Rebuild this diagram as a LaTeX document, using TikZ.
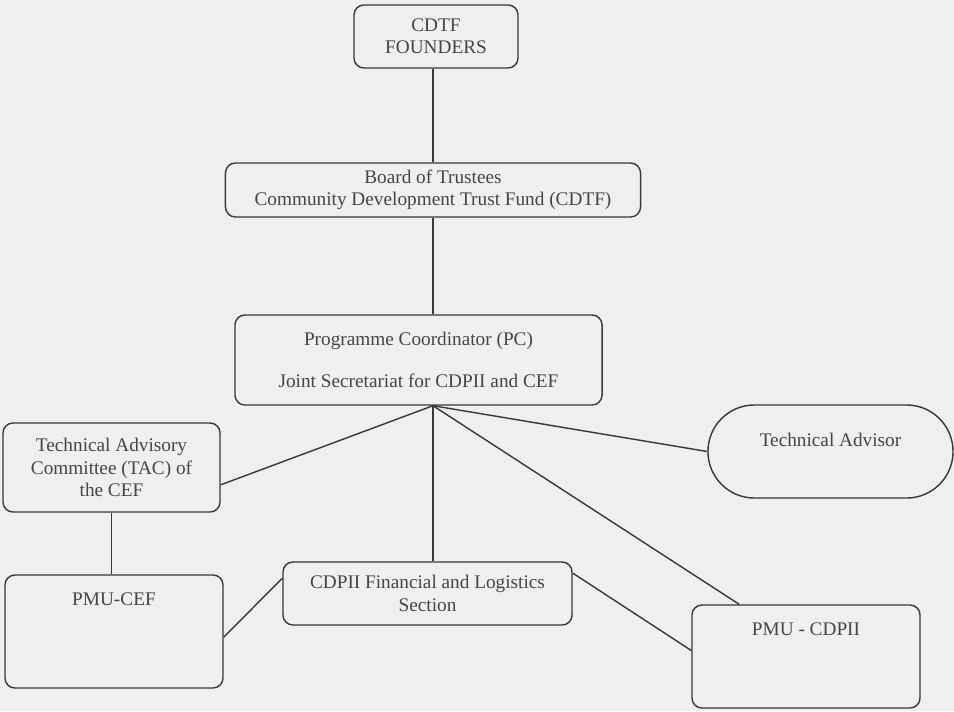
\documentclass[tikz,border=0pt]{standalone}
\usepackage{fontspec}
\setmainfont{Liberation Serif}
\usetikzlibrary{positioning}
\definecolor{paper}{rgb}{0.937,0.937,0.933}
\definecolor{ink}{rgb}{0.22,0.22,0.22}
\definecolor{print}{rgb}{0.27,0.27,0.27}

\begin{document}
\begin{tikzpicture}[
  x=0.025cm, y=-0.025cm,
  every node/.style={
    text=print,
    font=\fontsize{13.7}{15.8}\selectfont,
    align=center,
  },
  unit/.style={
    draw=ink,
    fill=paper,
    line width=1pt,
    rounded corners=0.25cm,
    inner sep=2pt,
  },
  link/.style={draw=ink, line width=1pt},
]

\useasboundingbox (0,0) rectangle (954,711);
\fill[paper] (0,0) rectangle (954,711);

\node[unit, minimum width=4.1cm, minimum height=1.575cm] (founders) at (436,36.5) {CDTF\\FOUNDERS};
\node[unit, minimum width=10.375cm, minimum height=1.35cm] (board) at (433,190) {Board of Trustees\\Community Development Trust Fund (CDTF)};
\node[unit, minimum width=9.175cm, minimum height=2.25cm] (pc) at (418.5,360) {Programme Coordinator (PC)\\[14pt]Joint Secretariat for CDPII and CEF};

\node[unit, minimum width=5.425cm, minimum height=2.225cm] (tac) at (111.5,467.5) {Technical Advisory\\Committee (TAC) of\\the CEF};
\node[unit, minimum width=6.125cm, minimum height=2.325cm, rounded corners=1.16cm] (advisor) at (830.5,451.5) {Technical Advisor\\[1pt]};

\node[unit, minimum width=5.45cm, minimum height=2.825cm] (pmucef) at (114,631.5) {};
\node[below=0.33cm of pmucef.north] (pmucef-t) {PMU-CEF};
\node[unit, minimum width=7.225cm, minimum height=1.575cm] (cdpii) at (427.5,593.5) {CDPII Financial and Logistics\\Section};
\node[unit, minimum width=5.7cm, minimum height=2.575cm] (pmucdpii) at (806,656.5) {};
\node[below=0.33cm of pmucdpii.north] (pmucdpii-t) {PMU - CDPII};

\coordinate (hub) at (board.south |- pc.south);

\draw[link] (founders.south -| board.north) -- (board.north);
\draw[link] (board.south) -- (board.south |- pc.north);
\draw[link] (hub) -- (tac.-9);
\draw[link] (hub) -- (advisor.west);
\draw[link] (hub) -- (hub |- cdpii.north);
\draw[link] (hub) -- (pmucdpii.142);
\draw[link] (tac.south) -- (tac.south |- pmucef.north);
\draw[link] (pmucef.-3) -- (cdpii.174);
\draw[link] (cdpii.8) -- (pmucdpii.177);

\end{tikzpicture}
\end{document}
